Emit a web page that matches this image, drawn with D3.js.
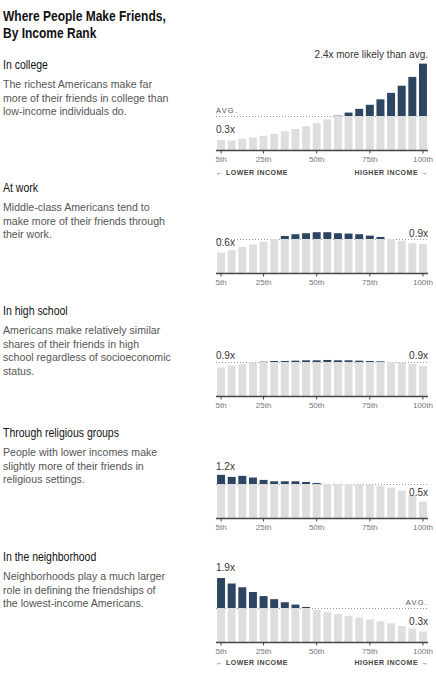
<!DOCTYPE html>
<html><head><meta charset="utf-8">
<script src="https://cdn.jsdelivr.net/npm/d3@7"></script>
<style>
html,body{margin:0;padding:0;background:#fff;}
svg{display:block;}
</style></head>
<body>
<script>
const percentiles = [5,10,15,20,25,30,35,40,45,50,55,60,65,70,75,80,85,90,95,100];
const tickValues = [5,25,50,75,100];
const tickLabels = ["5th","25th","50th","75th","100th"];

const collegeValues = [0.29,0.28,0.33,0.37,0.42,0.47,0.55,0.62,0.70,0.79,0.90,1.01,1.10,1.21,1.33,1.49,1.68,1.89,2.15,2.54];
const workValues = [0.60,0.67,0.77,0.84,0.92,1.00,1.09,1.14,1.17,1.20,1.20,1.17,1.16,1.14,1.10,1.06,1.00,0.95,0.88,0.85];
const highSchoolValues = [0.84,0.90,0.93,0.98,1.01,1.03,1.03,1.04,1.05,1.05,1.06,1.05,1.05,1.04,1.03,1.02,1.00,0.98,0.94,0.88];
const religiousValues = [1.27,1.21,1.24,1.19,1.12,1.08,1.08,1.08,1.06,1.03,1.00,1.00,1.00,0.99,0.98,0.95,0.89,0.81,0.67,0.48];
const neighborhoodValues = [1.88,1.72,1.61,1.47,1.35,1.26,1.17,1.10,1.03,0.95,0.88,0.82,0.77,0.72,0.66,0.61,0.55,0.47,0.40,0.31];

const titles = ["In college","At work","In high school","Through religious groups","In the neighborhood"];
const descriptions = [
  ["The richest Americans make far","more of their friends in college than","low-income individuals do."],
  ["Middle-class Americans tend to","make more of their friends through","their work."],
  ["Americans make relatively similar","shares of their friends in high","school regardless of socioeconomic","status."],
  ["People with lower incomes make","slightly more of their friends in","religious settings."],
  ["Neighborhoods play a much larger","role in defining the friendships of","the lowest-income Americans."]
];
const leftLabels = ["0.3x","0.6x","0.9x","1.2x","1.9x"];
const rightLabels = ["2.4x more likely than avg.","0.9x","0.9x","0.5x","0.3x"];
const seriesList = [collegeValues, workValues, highSchoolValues, religiousValues, neighborhoodValues];

const W = 436, H = 680;
const FONT = "'Liberation Sans', Arial, sans-serif";
const DARK = "#2c4562", LIGHT = "#dedede";

const svg = d3.select("body").append("svg").attr("width", W).attr("height", H);

function condense(sel, k) {
  sel.each(function() {
    const len = this.getComputedTextLength();
    d3.select(this).attr("textLength", len * k).attr("lengthAdjust", "spacingAndGlyphs");
  });
  return sel;
}

condense(svg.append("text").attr("x",3).attr("y",21).attr("font-family",FONT).attr("font-weight","bold")
  .attr("font-size",15).attr("fill","#111").text("Where People Make Friends,"), 0.80);
condense(svg.append("text").attr("x",3).attr("y",38).attr("font-family",FONT).attr("font-weight","bold")
  .attr("font-size",15).attr("fill","#111").text("By Income Rank"), 0.80);

const x = d3.scaleBand().domain(percentiles).range([216, 428]).paddingInner(0.25).paddingOuter(0.1);
const baselines = [150, 273, 396, 518, 642];
const unit = 34; // px per 1.0x

seriesList.forEach((vals, i) => {
  const base = baselines[i];
  const y = d3.scaleLinear().domain([0, 1]).range([base, base - unit]);
  const g = svg.append("g");

  condense(g.append("text").attr("x",3).attr("y",base-81).attr("font-family",FONT).attr("font-size",12.2)
    .attr("fill","#121212").text(titles[i]), 0.86);
  descriptions[i].forEach((line, j) => {
    g.append("text").attr("x",3).attr("y",base-62+j*13.6).attr("font-family",FONT).attr("font-size",10.6)
      .attr("fill","#555").text(line);
  });

  g.append("line").attr("x1",216).attr("x2",428).attr("y1",y(1)+0.5).attr("y2",y(1)+0.5)
    .attr("stroke","#999").attr("stroke-width",1).attr("stroke-dasharray","1,2");

  g.selectAll("rect.g").data(percentiles).enter().append("rect")
    .attr("x", p => x(p)).attr("width", x.bandwidth())
    .attr("y", (p, k) => y(Math.min(1, vals[k])))
    .attr("height", (p, k) => base - y(Math.min(1, vals[k])))
    .attr("fill", LIGHT);
  g.selectAll("rect.d").data(percentiles.filter((p,k)=>vals[k]>1)).enter().append("rect")
    .attr("x", p => x(p)).attr("width", x.bandwidth())
    .attr("y", p => y(vals[percentiles.indexOf(p)]))
    .attr("height", p => y(1) - y(vals[percentiles.indexOf(p)]))
    .attr("fill", DARK);

  const axis = d3.axisBottom(x).tickValues(tickValues).tickSize(3).tickPadding(3)
    .tickFormat(d => tickLabels[tickValues.indexOf(d)]);
  const ag = g.append("g").attr("transform", `translate(0,${base+0.5})`).call(axis);
  ag.select(".domain").attr("d", "M216,0H428").attr("stroke","#444").attr("stroke-width",1.5);
  ag.selectAll(".tick line").attr("stroke","#444");
  ag.selectAll(".tick text").attr("font-family",FONT).attr("font-size",8).attr("fill","#777");

  const leftY = [133, 246, 359, 470, 571][i];
  const rightY = [58, 237, 359, 496, 625][i];
  g.append("text").attr("x",216).attr("y",leftY).attr("font-family",FONT).attr("font-size",10)
    .attr("fill","#333").text(leftLabels[i]);
  g.append("text").attr("x",428).attr("y",rightY).attr("text-anchor","end").attr("font-family",FONT)
    .attr("font-size",10).attr("fill","#333").text(rightLabels[i]);
});

svg.append("text").attr("x",216).attr("y",113).attr("font-family",FONT).attr("font-size",7.5)
  .attr("letter-spacing","1.2").attr("fill","#555").text("AVG.");
svg.append("text").attr("x",428).attr("y",605).attr("text-anchor","end").attr("font-family",FONT).attr("font-size",7.5)
  .attr("letter-spacing","1.2").attr("fill","#555").text("AVG.");

[175, 665].forEach(yy => {
  svg.append("text").attr("x",216).attr("y",yy).attr("font-family",FONT).attr("font-size",7)
    .attr("font-weight","bold").attr("letter-spacing","0.5").attr("fill","#444").text("← LOWER INCOME");
  svg.append("text").attr("x",428).attr("y",yy).attr("text-anchor","end").attr("font-family",FONT).attr("font-size",7)
    .attr("font-weight","bold").attr("letter-spacing","0.5").attr("fill","#444").text("HIGHER INCOME →");
});
</script>
</body></html>
